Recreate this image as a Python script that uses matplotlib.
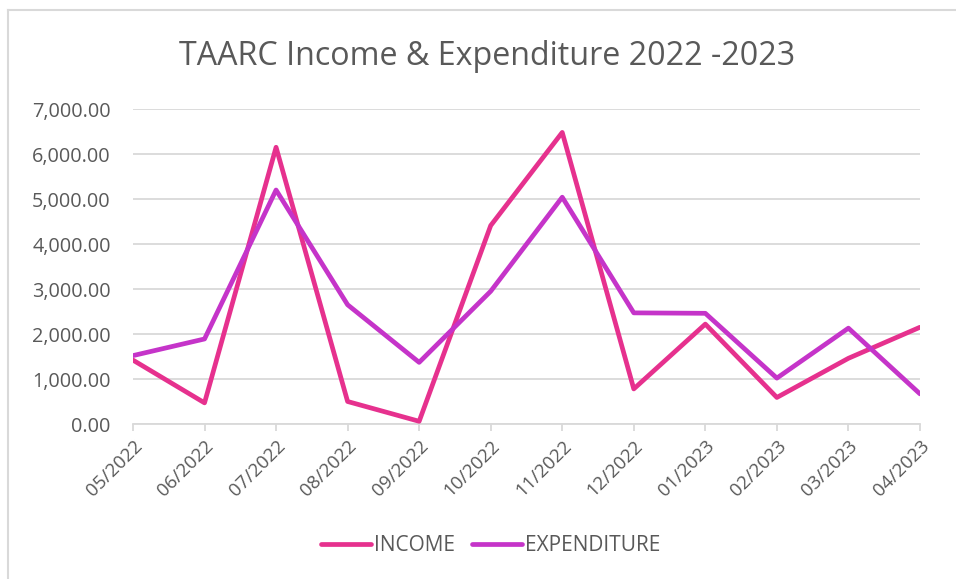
import numpy as np
import matplotlib.pyplot as plt
from matplotlib.lines import Line2D
from matplotlib.ticker import FuncFormatter

plt.rcParams['font.family'] = ['Open Sans', 'DejaVu Sans']

months = ['05/2022', '06/2022', '07/2022', '08/2022', '09/2022', '10/2022',
          '11/2022', '12/2022', '01/2023', '02/2023', '03/2023', '04/2023']
income = [1420, 470, 6150, 500, 60, 4410, 6480, 780, 2220, 590, 1460, 2150]
expenditure = [1520, 1890, 5200, 2650, 1370, 2950, 5040, 2470, 2460, 1020, 2130, 670]

c_inc = '#E6318E'
c_exp = '#C534C9'
grey = '#595959'

fig = plt.figure(figsize=(9.56, 5.79), dpi=100)
ax = fig.add_axes([0.1391, 0.2677, 0.8232, 0.544])

x = np.arange(len(months))
ax.plot(x, income, color=c_inc, lw=3.4, solid_joinstyle='round', solid_capstyle='round', label='INCOME', zorder=3)
ax.plot(x, expenditure, color=c_exp, lw=3.4, solid_joinstyle='round', solid_capstyle='round', label='EXPENDITURE', zorder=3)

ax.set_xlim(0, len(months) - 1)
ax.set_ylim(0, 7000)
ax.set_yticks(np.arange(0, 7001, 1000))
ax.yaxis.set_major_formatter(FuncFormatter(lambda v, p: '{:,.2f}'.format(v)))
ax.grid(axis='y', color='#D9D9D9', lw=1.3)
ax.set_axisbelow(True)
for s in ['top', 'right', 'left']:
    ax.spines[s].set_visible(False)
ax.spines['bottom'].set_color('#D9D9D9')
ax.spines['bottom'].set_linewidth(1.3)

ax.set_xticks(x)
ax.set_xticklabels(months, rotation=45, ha='right', rotation_mode='anchor')
ax.tick_params(axis='x', colors='#D9D9D9', length=5, width=1.3, labelcolor=grey, labelsize=13.5, pad=4)
ax.tick_params(axis='y', length=0, labelcolor=grey, labelsize=14.3, pad=16)

fig.text(0.5095, 0.903, 'TAARC Income & Expenditure 2022 -2023', ha='center', va='center',
         fontsize=23.2, color=grey)

handles = [Line2D([], [], color=c_inc, lw=3.4, solid_capstyle='round'),
           Line2D([], [], color=c_exp, lw=3.4, solid_capstyle='round')]
fig.legend(handles, ['INCOME', 'EXPENDITURE'], loc='center', bbox_to_anchor=(0.513, 0.057),
           ncol=2, frameon=False, fontsize=15, labelcolor=grey, handlelength=2.4,
           handletextpad=0.15, columnspacing=0.8)

# chart border (only top and left edges visible)
fig.add_artist(Line2D([7.5 / 956, 7.5 / 956], [0, 1 - 9.5 / 579], color='#D9D9D9', lw=1.5, transform=fig.transFigure))
fig.add_artist(Line2D([7.5 / 956, 1], [1 - 9.5 / 579, 1 - 9.5 / 579], color='#D9D9D9', lw=1.5, transform=fig.transFigure))

fig.savefig('out.png', dpi=100)
